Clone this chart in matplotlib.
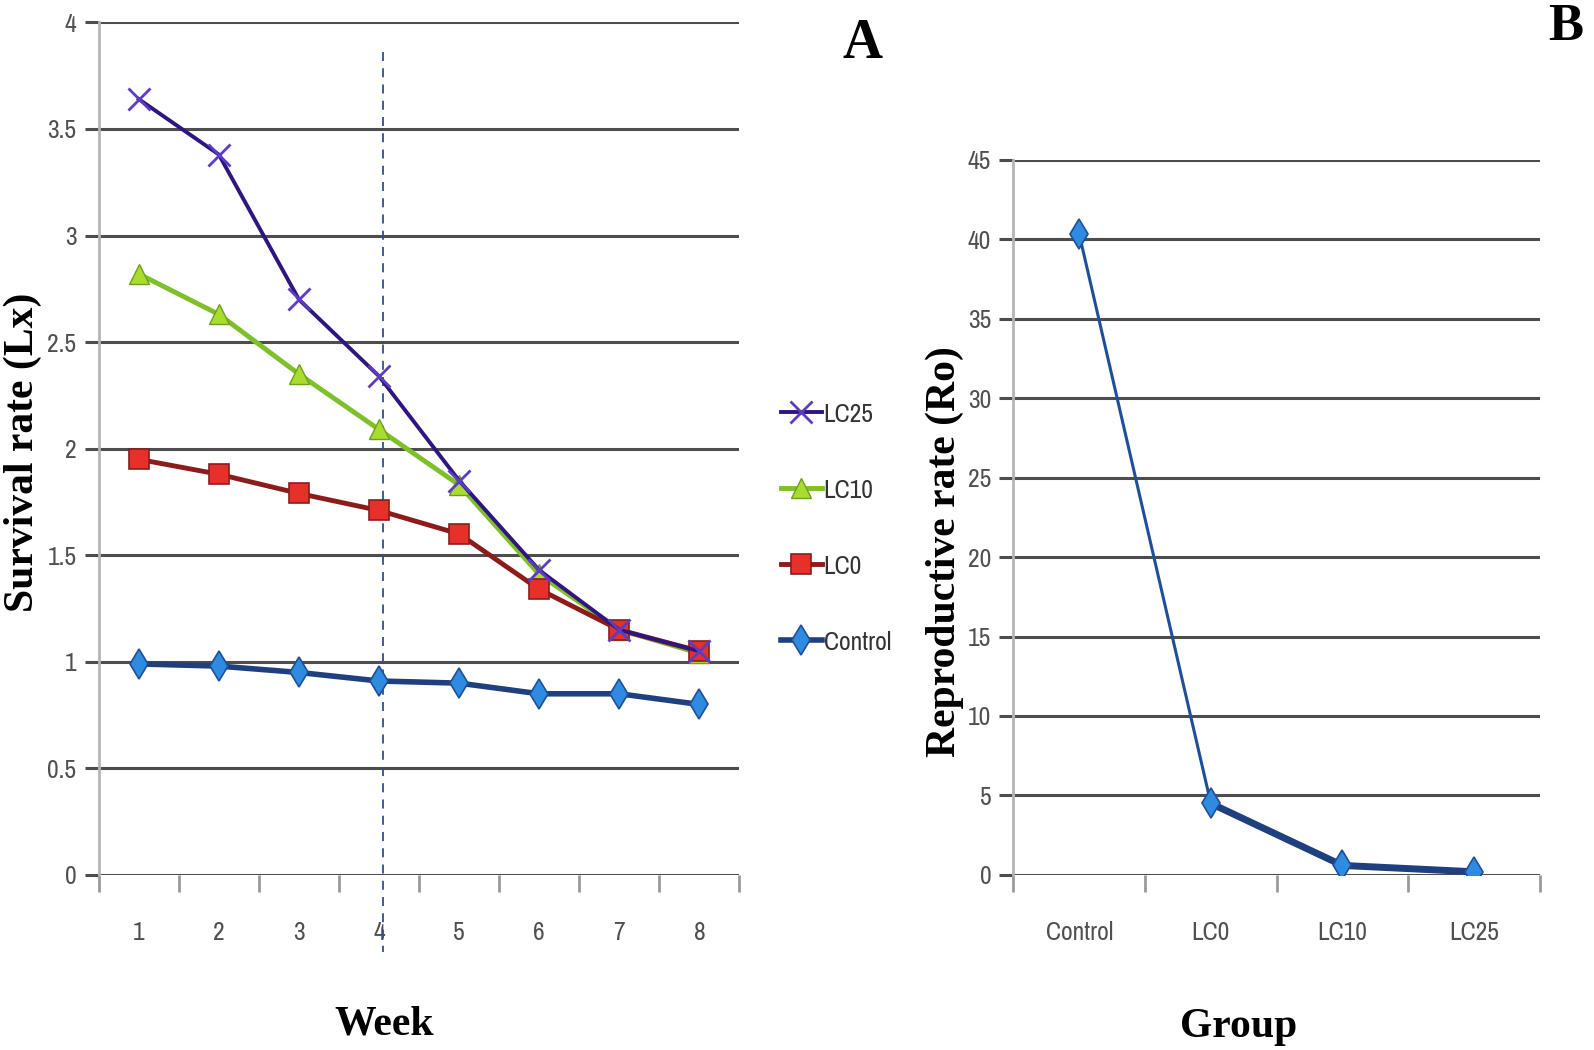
import matplotlib
matplotlib.use("Agg")
import matplotlib.pyplot as plt
from matplotlib import font_manager
from matplotlib.font_manager import FontProperties

# Excel-style narrow tick font: prefer a "Narrow" face, then any condensed one
narrow_path = None
cands = []
for f in font_manager.fontManager.ttflist:
    p = f.fname.lower()
    if f.style != 'normal' or f.weight not in (400, 'normal', 'regular'):
        continue
    if 'narrow' in p:
        cands.insert(0, f.fname)
    elif 'condensed' in p:
        cands.append(f.fname)
if cands:
    narrow_path = cands[0]

def tick_font(size):
    if narrow_path:
        return FontProperties(fname=narrow_path, size=size)
    return FontProperties(family='Roboto', size=size - 3)

serif = 'Liberation Serif'

weeks = [1, 2, 3, 4, 5, 6, 7, 8]
control = [0.99, 0.98, 0.95, 0.91, 0.90, 0.85, 0.85, 0.80]
lc0 = [1.95, 1.88, 1.79, 1.71, 1.60, 1.34, 1.15, 1.05]
lc10 = [2.82, 2.63, 2.35, 2.09, 1.83, 1.41, 1.15, 1.04]
lc25 = [3.64, 3.38, 2.70, 2.34, 1.85, 1.43, 1.15, 1.05]

groups = ['Control', 'LC0', 'LC10', 'LC25']
ro = [40.3, 4.5, 0.6, 0.2]

grid_c = '#4d4d4d'
tick_c = '#505050'
TS = 20

fig = plt.figure(figsize=(15.94, 10.5), dpi=100)

# ---- panel A ----
ax = fig.add_axes([0.0619, 0.1667, 0.402, 0.812])
ax.plot(weeks, control, color='#1f3f7f', lw=4, marker='d', ms=15,
        mfc='#2e8be0', mec='#1f4f99', mew=1.2, label='Control', zorder=5)
ax.plot(weeks, lc0, color='#8c1c1c', lw=3.5, marker='s', ms=14,
        mfc='#e8302a', mec='#8c1c1c', mew=1.2, label='LC0', zorder=4)
ax.plot(weeks, lc10, color='#7fbf2a', lw=3.5, marker='^', ms=15,
        mfc='#a8dc2e', mec='#6f9f20', mew=1.0, label='LC10', zorder=3)
ax.plot(weeks, lc25, color='#2f1580', lw=2.8, marker='x', ms=16,
        mec='#5c3cc0', mew=2.0, label='LC25', zorder=6)

ax.plot([4.05, 4.05], [3.86, -0.36], ls=(0, (5, 4)), color='#2f4f8f',
        lw=1.3, clip_on=False, zorder=2)

ax.set_xlim(0.5, 8.5)
ax.set_ylim(0, 4)
ax.set_yticks([0, 0.5, 1, 1.5, 2, 2.5, 3, 3.5, 4])
ax.set_yticklabels(['0', '0.5', '1', '1.5', '2', '2.5', '3', '3.5', '4'])
ax.set_xticks(weeks)
ax.set_xticks([w + 0.5 for w in [0] + weeks], minor=True)
ax.yaxis.grid(True, color=grid_c, lw=2.2)
ax.set_axisbelow(True)
for s in ['top', 'right', 'bottom']:
    ax.spines[s].set_visible(False)
ax.spines['left'].set_color('#b5b5b5')
ax.spines['left'].set_linewidth(2)
ax.tick_params(axis='y', length=10, width=2.2, color=grid_c, pad=6,
               labelcolor=tick_c)
ax.tick_params(axis='x', which='major', length=0, pad=33, labelcolor=tick_c)
ax.tick_params(axis='x', which='minor', length=12, width=2, color='#9a9a9a')
for lab in ax.get_xticklabels() + ax.get_yticklabels():
    lab.set_fontproperties(tick_font(TS))

fig.text(0.0145, 0.569, 'Survival rate (Lx)', fontfamily=serif,
         fontweight='bold', fontsize=30, rotation=90, ha='center', va='center')
fig.text(0.241, 0.024, 'Week', fontfamily=serif, fontweight='bold',
         fontsize=30, ha='center', va='center')
fig.text(0.541, 0.958, 'A', fontfamily=serif, fontweight='bold',
         fontsize=40, ha='center', va='center')

handles, labels = ax.get_legend_handles_labels()
leg = fig.legend(handles[::-1], labels[::-1], loc='center left',
                 bbox_to_anchor=(0.474, 0.497), frameon=False,
                 labelspacing=1.9, handlelength=1.5, handletextpad=0.05,
                 prop=tick_font(TS))
for t in leg.get_texts():
    t.set_color('#333333')

# ---- panel B ----
bx = fig.add_axes([0.6358, 0.1667, 0.3302, 0.6813])
xs = list(range(len(groups)))
bx.plot(xs[:2], ro[:2], color='#1f4f99', lw=2.2, zorder=4)
bx.plot(xs[1:], ro[1:], color='#1f3f7f', lw=5, zorder=4)
bx.plot(xs, ro, ls='none', marker='d', ms=15, mfc='#2e8be0',
        mec='#1f4f99', mew=1.2, zorder=5)
bx.set_xlim(-0.5, 3.5)
bx.set_ylim(0, 45)
bx.set_yticks(range(0, 50, 5))
bx.set_xticks(xs)
bx.set_xticklabels(groups)
bx.set_xticks([x + 0.5 for x in [-1] + xs], minor=True)
bx.yaxis.grid(True, color=grid_c, lw=2.2)
bx.set_axisbelow(True)
for s in ['top', 'right', 'bottom']:
    bx.spines[s].set_visible(False)
bx.spines['left'].set_color('#b5b5b5')
bx.spines['left'].set_linewidth(2)
bx.tick_params(axis='y', length=10, width=2.2, color=grid_c, pad=6,
               labelcolor=tick_c)
bx.tick_params(axis='x', which='major', length=0, pad=33, labelcolor=tick_c)
bx.tick_params(axis='x', which='minor', length=12, width=2, color='#9a9a9a')
for lab in bx.get_xticklabels() + bx.get_yticklabels():
    lab.set_fontproperties(tick_font(TS))

fig.text(0.593, 0.475, 'Reproductive rate (Ro)', fontfamily=serif,
         fontweight='bold', fontsize=30, rotation=90, ha='center', va='center')
fig.text(0.777, 0.022, 'Group', fontfamily=serif, fontweight='bold',
         fontsize=30, ha='center', va='center')
fig.text(0.982, 0.997, 'B', fontfamily=serif, fontweight='bold',
         fontsize=38, ha='center', va='top')

fig.savefig('out.png', dpi=100)
